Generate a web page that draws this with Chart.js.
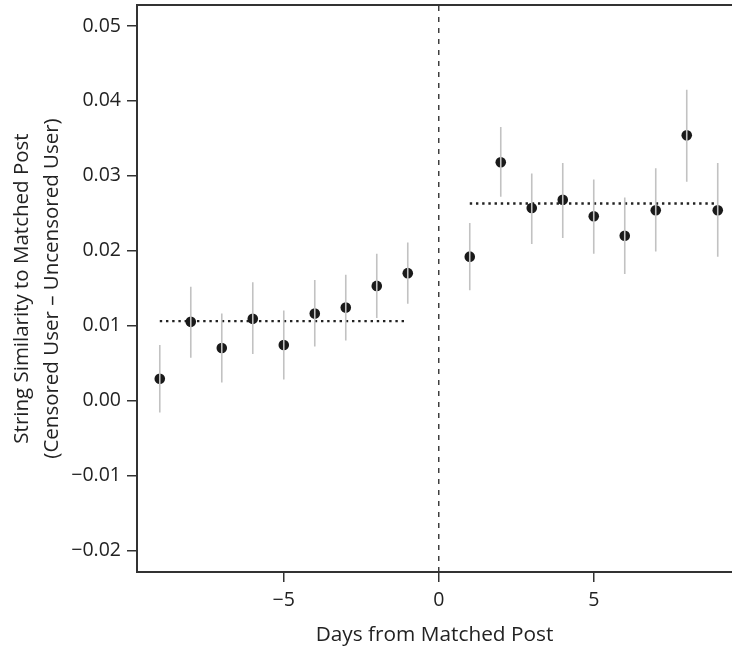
<!DOCTYPE html>
<html>
<head>
<meta charset="utf-8">
<script src="https://cdn.jsdelivr.net/npm/chart.js@4"></script>
<style>
  html, body { margin: 0; padding: 0; background: #fff; overflow: hidden; }
  canvas { display: block; }
</style>
</head>
<body>
<canvas id="similarityChart" width="732" height="650"></canvas>
<script>
// Days relative to the matched post and the estimated difference per day
const days = [-9, -8, -7, -6, -5, -4, -3, -2, -1, 1, 2, 3, 4, 5, 6, 7, 8, 9];
const estimate = [0.0029, 0.0105, 0.0070, 0.0109, 0.0074, 0.0116, 0.0124, 0.0153, 0.0170,
                  0.0192, 0.0318, 0.0257, 0.0268, 0.0246, 0.0220, 0.0254, 0.0354, 0.0254];
const lower = [-0.0016, 0.0057, 0.0024, 0.0062, 0.0028, 0.0072, 0.0080, 0.0110, 0.0129,
               0.0147, 0.0272, 0.0209, 0.0217, 0.0196, 0.0169, 0.0199, 0.0292, 0.0192];
const upper = [0.0074, 0.0152, 0.0116, 0.0158, 0.0120, 0.0161, 0.0168, 0.0196, 0.0211,
               0.0237, 0.0365, 0.0303, 0.0317, 0.0295, 0.0271, 0.0310, 0.0415, 0.0317];

// average level before and after the post
const beforeDays = [-9, -1];
const afterDays = [1, 9];
const beforeMean = 0.0106;
const afterMean = 0.0263;

const xTicks = [-5, 0, 5];
const yTicks = [-0.02, -0.01, 0.00, 0.01, 0.02, 0.03, 0.04, 0.05];
const xRange = [-9.735, 9.46];
const yRange = [-0.0229, 0.0528];

Chart.defaults.font.family = '"Open Sans", "Noto Sans", sans-serif';
Chart.defaults.color = '#222';

const minus = s => s.replace('-', '\u2212');

// vertical segments with a gap between each day
const errorBars = [];
days.forEach((d, i) => {
  errorBars.push({ x: d, y: lower[i] }, { x: d, y: upper[i] }, { x: d, y: null });
});

const topBorder = {
  id: 'topBorder',
  afterDraw(chart) {
    const { ctx, chartArea } = chart;
    ctx.save();
    ctx.strokeStyle = '#333';
    ctx.lineWidth = 2;
    ctx.beginPath();
    ctx.moveTo(chartArea.left - 1, chartArea.top);
    ctx.lineTo(chartArea.right, chartArea.top);
    ctx.stroke();
    ctx.restore();
  }
};

const ctx = document.getElementById('similarityChart').getContext('2d');
const chart = new Chart(ctx, {
  type: 'scatter',
  data: {
    datasets: [
      {
        label: 'estimate',
        data: days.map((d, i) => ({ x: d, y: estimate[i] })),
        backgroundColor: '#1a1a1a',
        borderColor: '#1a1a1a',
        pointRadius: 5.3,
        borderWidth: 0,
        order: 2,
      },
      {
        label: 'interval',
        data: errorBars,
        showLine: true,
        spanGaps: false,
        borderColor: '#c2c2c2',
        borderWidth: 1.6,
        pointRadius: 0,
        order: 1,
      },
      {
        label: 'before',
        data: beforeDays.map(d => ({ x: d, y: beforeMean })),
        showLine: true,
        borderColor: '#222',
        borderWidth: 2.4,
        borderDash: [2.4, 3.8],
        pointRadius: 0,
        order: 3,
      },
      {
        label: 'after',
        data: afterDays.map(d => ({ x: d, y: afterMean })),
        showLine: true,
        borderColor: '#222',
        borderWidth: 2.4,
        borderDash: [2.4, 3.8],
        pointRadius: 0,
        order: 3,
      },
      {
        label: 'post day',
        data: [{ x: 0, y: yRange[0] }, { x: 0, y: yRange[1] }],
        showLine: true,
        borderColor: '#333',
        borderWidth: 1.4,
        borderDash: [5, 6],
        pointRadius: 0,
        order: 4,
      },
    ],
  },
  options: {
    responsive: false,
    animation: false,
    devicePixelRatio: 1,
    layout: { autoPadding: false, padding: { top: 5, right: 0, left: 0, bottom: 0 } },
    plugins: {
      legend: { display: false },
      tooltip: { enabled: false },
    },
    scales: {
      x: {
        type: 'linear',
        min: xRange[0],
        max: xRange[1],
        afterBuildTicks: scale => { scale.ticks = xTicks.map(v => ({ value: v })); },
        afterFit: scale => {
          scale.height = 78;
          scale.paddingLeft = 0;
          scale.paddingRight = 0;
        },
        ticks: {
          font: { size: 19.5 },
          padding: 7,
          callback: v => minus(String(v)),
        },
        grid: { drawOnChartArea: false, drawTicks: true, tickLength: 10, color: '#333', lineWidth: 1.5 },
        border: { display: true, color: '#333', width: 2 },
        title: {
          display: true,
          text: 'Days from Matched Post',
          font: { size: 20.8 },
          padding: { top: 0, bottom: 2.5 },
        },
      },
      y: {
        min: yRange[0],
        max: yRange[1],
        afterBuildTicks: scale => { scale.ticks = yTicks.map(v => ({ value: v })); },
        afterFit: scale => {
          scale.width = 137;
          scale.paddingTop = 0;
          scale.paddingBottom = 0;
        },
        ticks: {
          font: { size: 19.5 },
          padding: 6,
          callback: v => minus(v.toFixed(2)),
        },
        grid: { drawOnChartArea: false, drawTicks: true, tickLength: 10, color: '#333', lineWidth: 1.5 },
        border: { display: true, color: '#333', width: 2 },
        title: {
          display: true,
          text: ['String Similarity to Matched Post', '(Censored User \u2013 Uncensored User)'],
          font: { size: 20.5, lineHeight: 1.5 },
          padding: { top: 6.5, bottom: 0 },
        },
      },
    },
  },
  plugins: [topBorder],
});
</script>
</body>
</html>
